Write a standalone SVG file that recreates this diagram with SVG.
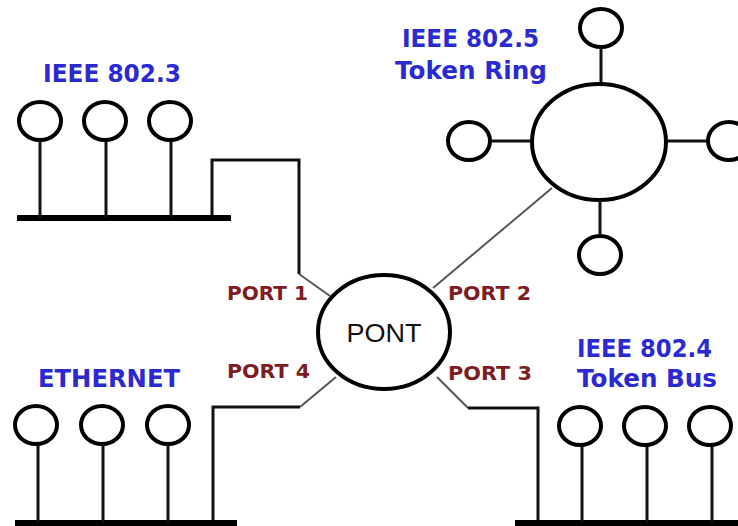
<svg xmlns="http://www.w3.org/2000/svg" width="738" height="526" viewBox="0 0 738 526">
<style>
.node{fill:none;stroke:#000;stroke-width:4}
.stem{stroke:#111;stroke-width:3;fill:none}
.bus{stroke:#000;stroke-width:6}
.wire{stroke:#111;stroke-width:3;fill:none}
.diag{stroke:#555;stroke-width:2;fill:none}
.lbl{font-family:"DejaVu Sans",Verdana,sans-serif;font-weight:bold;font-size:25px;fill:#2a2ad0}
.port{font-family:"DejaVu Sans",Verdana,sans-serif;font-weight:bold;font-size:20px;fill:#7e1c24}
.pont{font-family:"Liberation Sans",Arial,sans-serif;font-size:26px;fill:#111}
</style>
<rect width="738" height="526" fill="#fff"/>
<g id="connectors">
<polyline class="wire" points="212,218 212,160 299,160 299,274"/>
<line class="diag" x1="299" y1="274" x2="330" y2="296"/>
<line class="diag" x1="552" y1="188" x2="433" y2="288"/>
<line class="diag" x1="336" y1="377" x2="300" y2="407"/>
<polyline class="wire" points="300,407 213,407 213,523"/>
<line class="diag" x1="437" y1="377" x2="468" y2="408"/>
<polyline class="wire" points="468,408 538,408 538,523"/>
</g>
<g id="ieee8023">
<line class="bus" x1="17" y1="218" x2="231" y2="218"/>
<line class="stem" x1="40" y1="140" x2="40" y2="218"/>
<line class="stem" x1="106" y1="140" x2="106" y2="218"/>
<line class="stem" x1="171" y1="140" x2="171" y2="218"/>
<ellipse class="node" cx="40" cy="121" rx="21" ry="19"/>
<ellipse class="node" cx="105" cy="121" rx="21" ry="19"/>
<ellipse class="node" cx="170" cy="121" rx="21" ry="19"/>
<text class="lbl" x="43" y="82" textLength="138" lengthAdjust="spacingAndGlyphs">IEEE 802.3</text>
</g>
<g id="tokenring">
<line class="stem" x1="601" y1="47" x2="601" y2="84"/>
<line class="stem" x1="490" y1="141" x2="532" y2="141"/>
<line class="stem" x1="667" y1="141" x2="708" y2="141"/>
<line class="stem" x1="600" y1="200" x2="600" y2="237"/>
<ellipse class="node" cx="599" cy="142" rx="67" ry="58"/>
<ellipse class="node" cx="601" cy="28" rx="21" ry="19"/>
<ellipse class="node" cx="469" cy="141" rx="21" ry="19"/>
<ellipse class="node" cx="729" cy="141" rx="21" ry="19"/>
<ellipse class="node" cx="600" cy="255" rx="21" ry="19"/>
<text class="lbl" x="402" y="47" textLength="137" lengthAdjust="spacingAndGlyphs">IEEE 802.5</text>
<text class="lbl" x="395" y="79" textLength="152" lengthAdjust="spacingAndGlyphs">Token Ring</text>
</g>
<g id="pont">
<ellipse class="node" cx="384" cy="332" rx="66" ry="57"/>
<text class="pont" x="384" y="342" text-anchor="middle" textLength="75" lengthAdjust="spacingAndGlyphs">PONT</text>
</g>
<g id="ports">
<text class="port" x="227" y="300" textLength="81" lengthAdjust="spacingAndGlyphs">PORT 1</text>
<text class="port" x="448" y="300" textLength="83" lengthAdjust="spacingAndGlyphs">PORT 2</text>
<text class="port" x="448" y="380" textLength="84" lengthAdjust="spacingAndGlyphs">PORT 3</text>
<text class="port" x="227" y="378" textLength="83" lengthAdjust="spacingAndGlyphs">PORT 4</text>
</g>
<g id="ethernet">
<line class="bus" x1="15" y1="523" x2="237" y2="523"/>
<line class="stem" x1="38" y1="444" x2="38" y2="523"/>
<line class="stem" x1="103" y1="444" x2="103" y2="523"/>
<line class="stem" x1="168" y1="444" x2="168" y2="523"/>
<ellipse class="node" cx="36" cy="425" rx="21" ry="19"/>
<ellipse class="node" cx="102" cy="425" rx="21" ry="19"/>
<ellipse class="node" cx="168" cy="425" rx="21" ry="19"/>
<text class="lbl" x="38" y="387" textLength="142" lengthAdjust="spacingAndGlyphs">ETHERNET</text>
</g>
<g id="tokenbus">
<line class="bus" x1="515" y1="523" x2="738" y2="523"/>
<line class="stem" x1="582" y1="445" x2="582" y2="523"/>
<line class="stem" x1="647" y1="445" x2="647" y2="523"/>
<line class="stem" x1="712" y1="445" x2="712" y2="523"/>
<ellipse class="node" cx="580" cy="426" rx="21" ry="19"/>
<ellipse class="node" cx="645" cy="426" rx="21" ry="19"/>
<ellipse class="node" cx="710" cy="426" rx="21" ry="19"/>
<text class="lbl" x="577" y="357" textLength="135" lengthAdjust="spacingAndGlyphs">IEEE 802.4</text>
<text class="lbl" x="577" y="387" textLength="140" lengthAdjust="spacingAndGlyphs">Token Bus</text>
</g>
</svg>
